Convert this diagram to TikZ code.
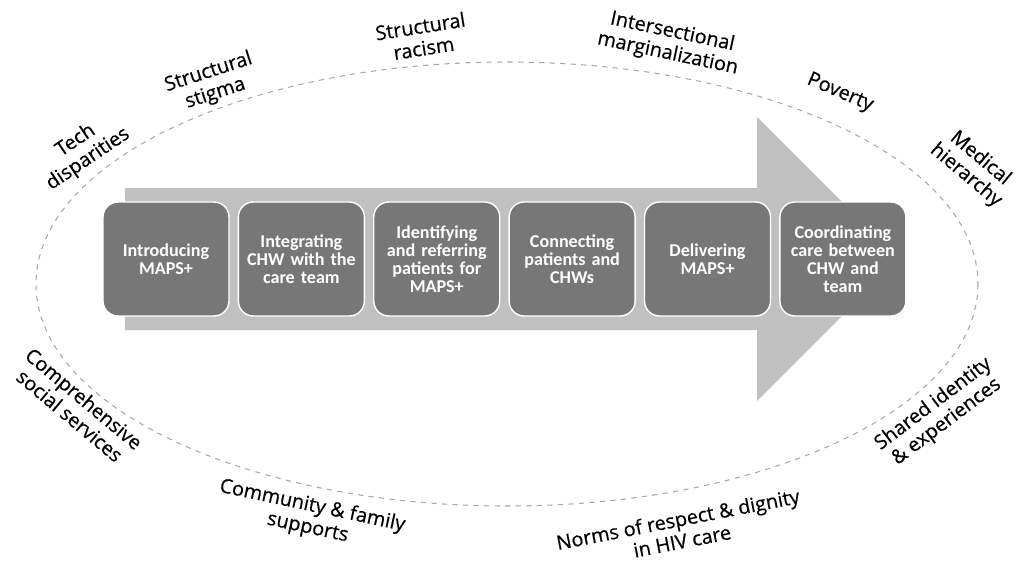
\documentclass[tikz,border=0pt]{standalone}
\usepackage{fontspec}
\setmainfont{Open Sans}
\newfontfamily\factorfont[FakeBold=0.5]{Open Sans}
\newfontfamily\boxfont{Carlito}
\usepackage{tikz}
\usetikzlibrary{positioning}

\definecolor{arrowgray}{HTML}{C0C0C0}
\definecolor{stepgray}{HTML}{777777}
\definecolor{ringgray}{HTML}{A8A8A8}

\tikzset{
  stepbox/.style={draw=white, line width=0.8pt, fill=stepgray, rounded corners=0.3cm,
    minimum width=2.52cm, minimum height=2.28cm, text width=2.3cm, align=center,
    text=white, font=\boxfont\bfseries\fontsize{10.3}{10.3}\selectfont, inner sep=0pt},
  factor/.style={align=center, font=\factorfont\fontsize{11.3}{12.6}\selectfont, inner sep=1pt}
}

\begin{document}
\begin{tikzpicture}[x=0.02cm,y=-0.02cm]
	\useasboundingbox (0,0) rectangle (1021,576);
	% outer ring
	\draw[ringgray, dashed, line width=0.6pt] (507,284) ellipse [x radius=471, y radius=222];
	% big arrow
	\fill[arrowgray] (125,188) -- (757,188) -- (757,117) -- (899,259) -- (757,401) -- (757,330) -- (125,330) -- cycle;
	% steps
	\node[stepbox] (intro) at (166,259) {Introducing\\MAPS+};
	\node[stepbox, right=0.16cm of intro] (integ) {Integrating\\CHW with the\\care team};
	\node[stepbox, right=0.16cm of integ] (ident) {Identifying\\and referring\\patients for\\MAPS+};
	\node[stepbox, right=0.16cm of ident] (conn) {Connecting\\patients and\\CHWs};
	\node[stepbox, right=0.16cm of conn] (deliv) {Delivering\\MAPS+};
	\node[stepbox, right=0.16cm of deliv] (coord) {Coordinating\\care between\\CHW and\\team};
	% barriers on top
	\node[factor, rotate=34] (tech) at (82,150) {Tech\\disparities};
	\node[factor, rotate=18] (stigma) at (212,83) {Structural\\stigma};
	\node[factor, rotate=9] (racism) at (422,37) {Structural\\racism};
	\node[factor, rotate=-12] (margin) at (670,43) {Intersectional\\marginalization};
	\node[factor, rotate=-23] (poverty) at (840,93) {Poverty};
	\node[factor, rotate=-40] (hier) at (973,167) {Medical\\hierarchy};
	% facilitators below
	\node[factor, rotate=-40] (social) at (77,407) {Comprehensive\\social services};
	\node[factor, rotate=-12] (family) at (310,517) {Community \& family\\supports};
	\node[factor, rotate=11] (norms) at (680,530) {Norms of respect \& dignity\\in HIV care};
	\node[factor, rotate=37] (shared) at (940,413) {Shared identity\\\& experiences};
\end{tikzpicture}
\end{document}
